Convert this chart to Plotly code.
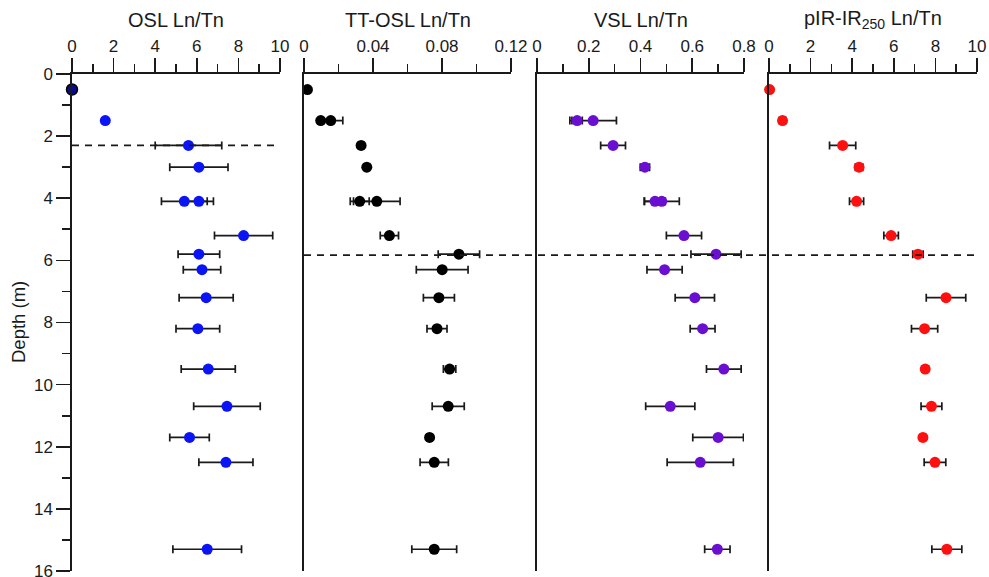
import plotly.graph_objects as go

# ---------------- data ----------------
depth_osl = [0.5, 1.5, 2.3, 3.0, 4.1, 4.1, 5.2, 5.8, 6.3, 7.2, 8.2, 9.5, 10.7, 11.7, 12.5, 15.3]
osl = [0.0, 1.6, 5.6, 6.1, 5.4, 6.1, 8.25, 6.1, 6.25, 6.45, 6.05, 6.55, 7.45, 5.65, 7.4, 6.5]
osl_err = [0, 0, 1.6, 1.4, 1.1, 0.7, 1.4, 1.0, 0.9, 1.3, 1.05, 1.3, 1.6, 0.95, 1.3, 1.65]

depth_tt = [0.5, 1.5, 1.5, 2.3, 3.0, 4.1, 4.1, 5.2, 5.8, 6.3, 7.2, 8.2, 9.5, 10.7, 11.7, 12.5, 15.3]
tt = [0.002, 0.0097, 0.0155, 0.0331, 0.0364, 0.0323, 0.0422, 0.0495, 0.0898, 0.0801,
      0.0782, 0.0771, 0.0844, 0.0836, 0.0728, 0.0755, 0.0755]
tt_err = [0, 0, 0.007, 0.0015, 0.0015, 0.0055, 0.0135, 0.0053, 0.012, 0.015,
          0.009, 0.0058, 0.0036, 0.0093, 0, 0.0082, 0.013]

depth_vsl = [1.5, 1.5, 2.3, 3.0, 4.1, 4.1, 5.2, 5.8, 6.3, 7.2, 8.2, 9.5, 10.7, 11.7, 12.5, 15.3]
vsl = [0.155, 0.217, 0.294, 0.417, 0.456, 0.482, 0.568, 0.692, 0.493, 0.610,
       0.640, 0.722, 0.515, 0.700, 0.631, 0.697]
vsl_err = [0.02, 0.09, 0.048, 0.018, 0.04, 0.068, 0.068, 0.097, 0.068, 0.076,
           0.048, 0.067, 0.095, 0.098, 0.128, 0.049]

depth_pir = [0.5, 1.5, 2.3, 3.0, 4.1, 5.2, 5.8, 7.2, 8.2, 9.5, 10.7, 11.7, 12.5, 15.3]
pir = [0.03, 0.65, 3.54, 4.33, 4.21, 5.87, 7.16, 8.51, 7.48, 7.51, 7.81, 7.40, 7.98, 8.55]
pir_err = [0, 0.15, 0.63, 0.18, 0.34, 0.35, 0.25, 0.95, 0.63, 0.15, 0.5, 0.12, 0.52, 0.72]

titles = ["OSL Ln/Tn", "TT-OSL Ln/Tn", "VSL Ln/Tn", "pIR-IR<sub>250</sub> Ln/Tn"]
x_ranges = [[0, 10], [0, 0.12], [0, 0.8], [0, 10]]
x_dticks = [2, 0.04, 0.2, 2]
x_minor = [1, 0.02, 0.1, 1]
y_ticks = [0, 2, 4, 6, 8, 10, 12, 14, 16]
boundary_osl = 2.3
boundary_other = 5.83

# ---------------- layout geometry ----------------
W, H = 989, 577
ML, MR = 0, 0
MT = 74
MB = H - 571
panels_px = [(72, 280), (304, 511), (537, 744), (769, 977)]
domains = [[a / W, b / W] for a, b in panels_px]

colors = ["#0a14f5", "#000000", "#6a0fd2", "#ff1010"]
series = [(osl, osl_err, depth_osl), (tt, tt_err, depth_tt),
          (vsl, vsl_err, depth_vsl), (pir, pir_err, depth_pir)]

fig = go.Figure()
font = dict(family="Liberation Sans, Arial, sans-serif", color="#1a1a1a")
ink = "#1a1a1a"

for i, (vals, errs, deps) in enumerate(series):
    n = "" if i == 0 else str(i + 1)
    line_w = [0] * len(vals)
    if i == 0:
        line_w[0] = 1.5
    fig.add_trace(go.Scatter(
        x=vals, y=deps, mode="markers",
        xaxis="x" + n, yaxis="y" + n,
        marker=dict(size=11, color=colors[i] if i != 0 else
                    ["#0a0a90"] + [colors[0]] * (len(vals) - 1),
                    line=dict(color="#000000", width=line_w)),
        error_x=dict(type="data", array=errs, visible=True, color=ink,
                     thickness=1.7, width=4),
        cliponaxis=False, showlegend=False, hoverinfo="skip",
    ))

layout = dict(
    width=W, height=H, margin=dict(l=ML, r=MR, t=MT, b=MB),
    paper_bgcolor="white", plot_bgcolor="white",
    font=dict(size=17, **font), showlegend=False,
)

for i in range(4):
    n = "" if i == 0 else str(i + 1)
    layout["xaxis" + n] = dict(
        domain=domains[i], anchor="y" + n, side="top",
        range=x_ranges[i], dtick=x_dticks[i], tick0=0,
        showline=True, linecolor=ink, linewidth=1.7,
        ticks="outside", ticklen=14, tickwidth=1.7, tickcolor=ink,
        minor=dict(dtick=x_minor[i], tick0=0, ticks="outside", ticklen=8,
                   tickwidth=1.7, tickcolor=ink, showgrid=False),
        showgrid=False, zeroline=False, fixedrange=True,
        tickfont=dict(size=17), automargin=False, ticklabeloverflow="allow",
    )
    ydict = dict(
        domain=[0, 1], anchor="x" + n, range=[16, 0],
        showline=True, linecolor=ink, linewidth=1.7,
        showgrid=False, zeroline=False, fixedrange=True, automargin=False,
    )
    if i == 0:
        ydict.update(tickvals=y_ticks, ticks="outside", ticklen=14, tickwidth=1.7,
                     tickcolor=ink, tickfont=dict(size=17), ticklabeloverflow="allow",
                     minor=dict(dtick=1, tick0=0, ticks="outside", ticklen=8,
                                tickwidth=1.7, tickcolor=ink, showgrid=False))
    else:
        ydict.update(showticklabels=False, ticks="")
    layout["yaxis" + n] = ydict

fig.update_layout(**layout)

plot_h = H - MT - MB
title_y = 1 + (MT - 20) / plot_h
for i, t in enumerate(titles):
    fig.add_annotation(text=t, xref="paper", yref="paper",
                       x=(domains[i][0] + domains[i][1]) / 2, y=title_y,
                       xanchor="center", yanchor="middle", showarrow=False,
                       font=dict(size=20, **font))

fig.add_annotation(text="Depth (m)", xref="paper", yref="paper",
                   x=18 / W, y=1 - (322 - MT) / plot_h, textangle=-90,
                   xanchor="center", yanchor="middle", showarrow=False,
                   font=dict(size=18.5, **font))

# boundary dashed lines
dash = "7px,6px"
fig.add_shape(type="line", xref="paper", yref="y", x0=domains[0][0], x1=domains[0][1],
              y0=boundary_osl, y1=boundary_osl,
              line=dict(color=ink, width=1.7, dash=dash))
fig.add_shape(type="line", xref="paper", yref="y", x0=domains[1][0], x1=domains[3][1],
              y0=boundary_other, y1=boundary_other,
              line=dict(color=ink, width=1.7, dash=dash))

# remove the default page margin so the figure sits at the window origin
fig.write_html("out.html",
               config={"displayModeBar": False, "staticPlot": True},
               post_script="document.body.style.margin='0';"
                           "document.documentElement.style.overflow='hidden';")
